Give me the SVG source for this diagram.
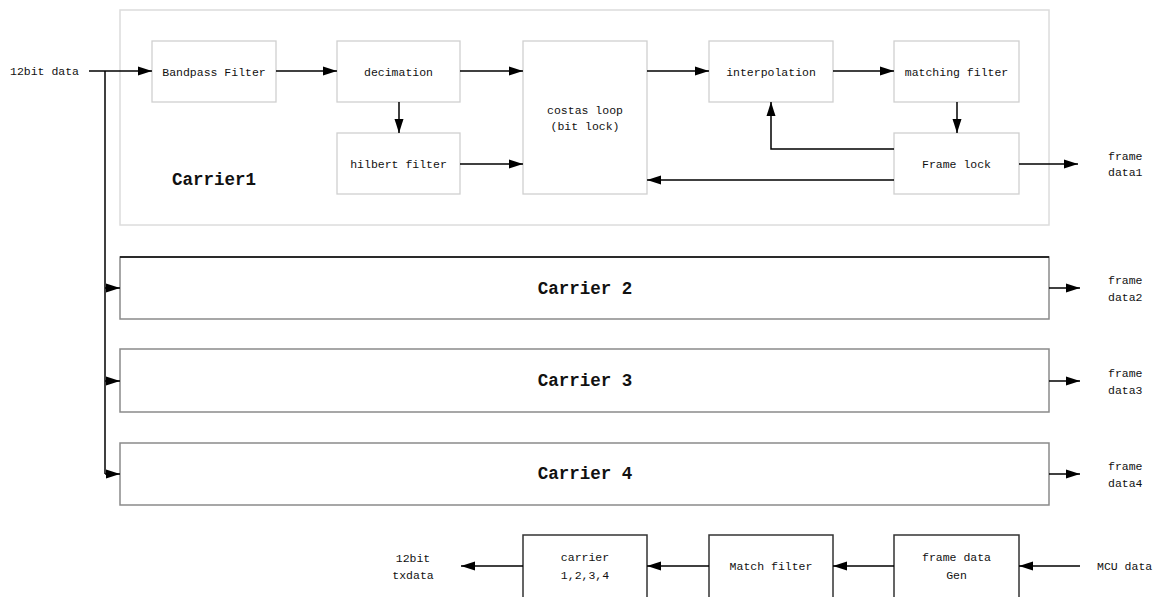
<svg xmlns="http://www.w3.org/2000/svg" width="1159" height="597" viewBox="0 0 1159 597">
<defs>
<marker id="ah" markerWidth="14" markerHeight="10" refX="14" refY="5" orient="auto" markerUnits="userSpaceOnUse">
<path d="M0,0.5 L14,5 L0,9.5 Z" fill="#000"/>
</marker>
<style>
.t{font-family:"Liberation Mono",monospace;font-size:11.5px;fill:#111;text-anchor:middle;dominant-baseline:central}
.tl{font-family:"Liberation Mono",monospace;font-size:11.5px;fill:#111;dominant-baseline:central}
.big{font-family:"Liberation Mono",monospace;font-size:17.5px;font-weight:bold;fill:#111;text-anchor:middle;dominant-baseline:central}
.inner{fill:#fff;stroke:#d0d0d0;stroke-width:1.3}
.outer{fill:#fff;stroke:#dcdcdc;stroke-width:1.5}
.car{fill:#fff;stroke:#8a8a8a;stroke-width:1.5}
.bot{fill:#fff;stroke:#333;stroke-width:1.5}
.c{fill:none;stroke:#000;stroke-width:1.5;marker-end:url(#ah)}
.l{fill:none;stroke:#000;stroke-width:1.5}
</style>
</defs>
<rect width="1159" height="597" fill="#fff"/>

<g id="carrier1">
<rect class="outer" x="120" y="10" width="929" height="215"/>
<text class="big" x="214" y="180">Carrier1</text>
</g>
<g id="bandpass"><rect class="inner" x="152" y="41" width="124" height="61"/><text class="t" x="214" y="72">Bandpass Filter</text></g>
<g id="decimation"><rect class="inner" x="337" y="41" width="123" height="61"/><text class="t" x="398.5" y="72">decimation</text></g>
<g id="hilbert"><rect class="inner" x="337" y="133" width="123" height="61"/><text class="t" x="398.5" y="164">hilbert filter</text></g>
<g id="costas"><rect class="inner" x="523" y="41" width="124" height="153"/><text class="t" x="585" y="110">costas loop</text><text class="t" x="585" y="126">(bit lock)</text></g>
<g id="interpolation"><rect class="inner" x="709" y="41" width="124" height="61"/><text class="t" x="771" y="72">interpolation</text></g>
<g id="matching"><rect class="inner" x="894" y="41" width="125" height="61"/><text class="t" x="956.5" y="72">matching filter</text></g>
<g id="framelock"><rect class="inner" x="894" y="133" width="125" height="61"/><text class="t" x="956.5" y="164">Frame lock</text></g>

<g id="carrier2"><rect class="car" x="120" y="257" width="929" height="62"/><line x1="120" y1="257" x2="1049" y2="257" stroke="#000" stroke-width="1.5"/><text class="big" x="585" y="289">Carrier 2</text></g>
<g id="carrier3"><rect class="car" x="120" y="349" width="929" height="63"/><text class="big" x="585" y="381">Carrier 3</text></g>
<g id="carrier4"><rect class="car" x="120" y="443" width="929" height="62"/><text class="big" x="585" y="474">Carrier 4</text></g>

<g id="carrierTx"><rect class="bot" x="523" y="535" width="124" height="70"/><text class="t" x="585" y="557">carrier</text><text class="t" x="585" y="575">1,2,3,4</text></g>
<g id="matchfilter"><rect class="bot" x="709" y="535" width="124" height="70"/><text class="t" x="771" y="566">Match filter</text></g>
<g id="framegen"><rect class="bot" x="894" y="535" width="125" height="70"/><text class="t" x="956.5" y="557">frame data</text><text class="t" x="956.5" y="575">Gen</text></g>

<g id="labels">
<text class="tl" x="10" y="71">12bit data</text>
<text class="tl" x="1108" y="156">frame</text><text class="tl" x="1108" y="172">data1</text>
<text class="tl" x="1108" y="280">frame</text><text class="tl" x="1108" y="297">data2</text>
<text class="tl" x="1108" y="373">frame</text><text class="tl" x="1108" y="390">data3</text>
<text class="tl" x="1108" y="466">frame</text><text class="tl" x="1108" y="483">data4</text>
<text class="t" x="413" y="558">12bit</text><text class="t" x="413" y="575">txdata</text>
<text class="tl" x="1097" y="566">MCU data</text>
</g>

<g id="connectors">
<path class="c" d="M89,71 H152"/>
<path class="l" d="M105,71 V474"/>
<path class="c" d="M105,288 H120"/>
<path class="c" d="M105,381 H120"/>
<path class="c" d="M105,474 H120"/>
<path class="c" d="M276,71 H337"/>
<path class="c" d="M460,71 H523"/>
<path class="c" d="M399,102 V133"/>
<path class="c" d="M460,164 H523"/>
<path class="c" d="M647,71 H709"/>
<path class="c" d="M833,71 H894"/>
<path class="c" d="M957,102 V133"/>
<path class="c" d="M894,149 H771 V102"/>
<path class="c" d="M894,180 H647"/>
<path class="c" d="M1019,164 H1078"/>
<path class="c" d="M1049,288 H1080"/>
<path class="c" d="M1049,381 H1080"/>
<path class="c" d="M1049,474 H1080"/>
<path class="c" d="M1080,566 H1019"/>
<path class="c" d="M894,566 H833"/>
<path class="c" d="M709,566 H647"/>
<path class="c" d="M523,566 H461"/>
</g>
</svg>
